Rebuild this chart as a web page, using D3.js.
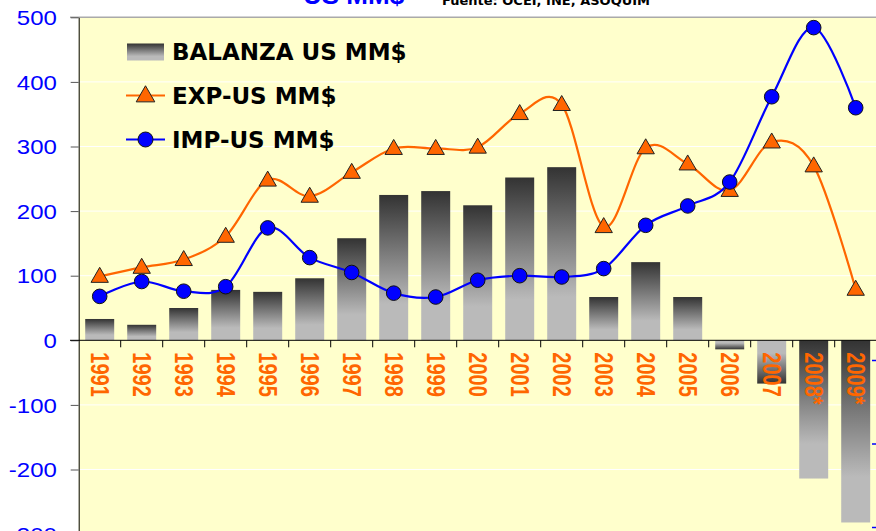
<!DOCTYPE html>
<html>
<head>
<meta charset="utf-8">
<script src="https://cdnjs.cloudflare.com/ajax/libs/d3/7.8.5/d3.min.js"></script>
<style>
  body { margin: 0; background: #fff; }
  svg { display: block; }
</style>
</head>
<body>
<div id="chart"></div>
<script>
// data (US MM$)
var years = ["1991", "1992", "1993", "1994", "1995", "1996", "1997", "1998", "1999", "2000",
             "2001", "2002", "2003", "2004", "2005", "2006", "2007", "2008*", "2009*"];
var balanza = [33, 24, 50, 78, 75, 96, 158, 225, 231, 209, 252, 268, 67, 121, 67, -14, -67, -214, -282];
var expUS = [99, 113, 125, 161, 248, 223, 260, 297, 297, 299, 351, 365, 176, 298, 273, 232, 307, 270, 79];
var impUS = [68, 91, 76, 83, 174, 128, 105, 73, 67, 93, 100, 98, 111, 178, 208, 245, 377, 484, 360];
var yTicks = [-300, -200, -100, 0, 100, 200, 300, 400, 500];
var rightTicks = [-1, -2, -3];
var legendNames = ["BALANZA US MM$", "EXP-US MM$", "IMP-US MM$"];

var width = 876,
    height = 531;
var plotL = 78.7, plotR = 876.7, plotT = 17.3, plotB = 534.1;

var orange = "#ff6600", blue = "#0000ff", plotBg = "#ffffcc";

var svg = d3.select("#chart").append("svg")
    .attr("width", width)
    .attr("height", height);

var defs = svg.append("defs");
var gNorm = defs.append("linearGradient").attr("id", "barGrad")
    .attr("x1", 0).attr("y1", 0).attr("x2", 0).attr("y2", 1);
gNorm.append("stop").attr("offset", 0).attr("stop-color", "#333333");
gNorm.append("stop").attr("offset", 0.75).attr("stop-color", "#bababa");
gNorm.append("stop").attr("offset", 1).attr("stop-color", "#bababa");
var gFlip = defs.append("linearGradient").attr("id", "barGradFlip")
    .attr("x1", 0).attr("y1", 0).attr("x2", 0).attr("y2", 1);
gFlip.append("stop").attr("offset", 0).attr("stop-color", "#bababa");
gFlip.append("stop").attr("offset", 0.3).attr("stop-color", "#bababa");
gFlip.append("stop").attr("offset", 1).attr("stop-color", "#333333");
var flipped = ["2006", "2007"]; // these two bars have the gradient upside down

var x = d3.scaleBand().domain(years).range([plotL, plotR]).padding(0);
var y = d3.scaleLinear().domain([-300, 500]).range([plotB, plotT]);
var y2 = d3.scaleLinear().domain([0, -3]).range([276.5, 527]);
var barW = x.bandwidth() * 0.69;
function cx(d) { return x(d) + x.bandwidth() / 2; }

// plot area
svg.append("rect")
    .attr("x", plotL).attr("y", plotT)
    .attr("width", plotR - plotL).attr("height", height - plotT)
    .attr("fill", plotBg);

// white grid lines
svg.append("g").selectAll("line")
    .data(yTicks.filter(function(t) { return t != 0 && t != 500; }))
    .enter().append("line")
    .attr("x1", plotL).attr("x2", plotR)
    .attr("y1", function(d) { return y(d); })
    .attr("y2", function(d) { return y(d); })
    .attr("stroke", "#ffffff").attr("stroke-width", 1);

// top border
svg.append("line")
    .attr("x1", 70).attr("x2", width)
    .attr("y1", y(500)).attr("y2", y(500))
    .attr("stroke", "#aaaaaa").attr("stroke-width", 1.5);

// bars
svg.append("g").selectAll("rect")
    .data(years).enter().append("rect")
    .attr("x", function(d) { return cx(d) - barW / 2; })
    .attr("width", barW)
    .attr("y", function(d, i) { return y(Math.max(0, balanza[i])); })
    .attr("height", function(d, i) { return Math.abs(y(balanza[i]) - y(0)); })
    .attr("fill", function(d) { return flipped.indexOf(d) >= 0 ? "url(#barGradFlip)" : "url(#barGrad)"; });

// left axis (plain hyphen for negatives, like the original)
var yAxis = svg.append("g")
    .attr("transform", "translate(" + plotL + ",0)")
    .call(d3.axisLeft(y).tickValues(yTicks).tickSize(8).tickSizeOuter(0)
      .tickFormat(function(d) { return String(d); }));
yAxis.select(".domain").attr("stroke", "#000");
yAxis.selectAll(".tick line").attr("stroke", "#555");
yAxis.selectAll(".tick text")
    .attr("x", -18.2)
    .attr("dy", "0.36em")
    .attr("transform", "scale(1.2,1)")
    .attr("fill", blue)
    .style("font-family", "'Liberation Sans', Arial, sans-serif")
    .style("font-size", "20px");

// zero line and category ticks
svg.append("line")
    .attr("x1", 70).attr("x2", plotR)
    .attr("y1", y(0)).attr("y2", y(0))
    .attr("stroke", "#000").attr("stroke-width", 1);
svg.append("g").selectAll("line")
    .data(years).enter().append("line")
    .attr("x1", function(d) { return x(d) + x.bandwidth(); })
    .attr("x2", function(d) { return x(d) + x.bandwidth(); })
    .attr("y1", y(0)).attr("y2", y(0) + 7)
    .attr("stroke", "#000");

// right axis, only its ticks show at the edge
var rAxis = svg.append("g")
    .attr("transform", "translate(872,0)")
    .call(d3.axisRight(y2).tickValues(rightTicks).tickSize(5).tickFormat(""));
rAxis.select(".domain").remove();
rAxis.selectAll(".tick line").attr("stroke", blue).attr("stroke-width", 1.5);

// year labels, rotated
svg.append("g").selectAll("text")
    .data(years).enter().append("text")
    .attr("transform", function(d) { return "translate(" + cx(d) + "," + (y(0) + 12) + ") scale(1.25,1) rotate(90)"; })
    .attr("dy", "0.36em")
    .attr("fill", orange)
    .style("font-family", "'Liberation Sans', Arial, sans-serif")
    .style("font-size", "20px")
    .style("font-weight", "bold")
    .text(function(d) { return d; });

// smoothed lines
var line = d3.line()
    .x(function(d, i) { return cx(years[i]); })
    .y(function(d) { return y(d); })
    .curve(d3.curveCardinal.tension(0));

svg.append("path").datum(expUS)
    .attr("d", line).attr("fill", "none")
    .attr("stroke", orange).attr("stroke-width", 2.2);
svg.append("path").datum(impUS)
    .attr("d", line).attr("fill", "none")
    .attr("stroke", blue).attr("stroke-width", 2.2);

var tri = d3.symbol().type(d3.symbolTriangle).size(130);
svg.append("g").selectAll("path")
    .data(expUS).enter().append("path")
    .attr("d", tri)
    .attr("transform", function(d, i) { return "translate(" + cx(years[i]) + "," + (y(d) + 1) + ")"; })
    .attr("fill", orange).attr("stroke", "#222").attr("stroke-width", 1);

svg.append("g").selectAll("circle")
    .data(impUS).enter().append("circle")
    .attr("cx", function(d, i) { return cx(years[i]); })
    .attr("cy", function(d) { return y(d); })
    .attr("r", 7.3)
    .attr("fill", blue).attr("stroke", "#111").attr("stroke-width", 1);

// legend
var legend = svg.append("g");
var rowY = [51.5, 95.5, 139.5];
legend.append("rect")
    .attr("x", 127).attr("y", 43.5).attr("width", 37).attr("height", 17)
    .attr("fill", "url(#barGrad)");
legend.append("line")
    .attr("x1", 126).attr("x2", 165).attr("y1", rowY[1]).attr("y2", rowY[1])
    .attr("stroke", orange).attr("stroke-width", 2.2);
legend.append("path")
    .attr("d", d3.symbol().type(d3.symbolTriangle).size(150))
    .attr("transform", "translate(145.5," + (rowY[1] + 1) + ")")
    .attr("fill", orange).attr("stroke", "#222");
legend.append("line")
    .attr("x1", 126).attr("x2", 165).attr("y1", rowY[2]).attr("y2", rowY[2])
    .attr("stroke", blue).attr("stroke-width", 2.2);
legend.append("circle")
    .attr("cx", 145.5).attr("cy", rowY[2]).attr("r", 7.5)
    .attr("fill", blue).attr("stroke", "#111");
legend.selectAll("text")
    .data(legendNames).enter().append("text")
    .attr("x", 172)
    .attr("y", function(d, i) { return rowY[i] + 8.5; })
    .attr("fill", "#000")
    .style("font-family", "'DejaVu Sans', Verdana, sans-serif")
    .style("font-size", "23px")
    .style("font-weight", "bold")
    .text(function(d) { return d; });

// title bits cut off at the top
svg.append("text")
    .attr("x", 303).attr("y", 4)
    .attr("fill", blue)
    .style("font-family", "'Liberation Sans', Arial, sans-serif")
    .style("font-size", "26px")
    .style("font-weight", "bold")
    .text("US MM$");
svg.append("text")
    .attr("x", 442).attr("y", 4.5)
    .attr("fill", "#000")
    .style("font-family", "'DejaVu Sans', Verdana, sans-serif")
    .style("font-size", "13px")
    .style("font-weight", "bold")
    .text("Fuente: OCEI, INE, ASOQUIM");
</script>
</body>
</html>
